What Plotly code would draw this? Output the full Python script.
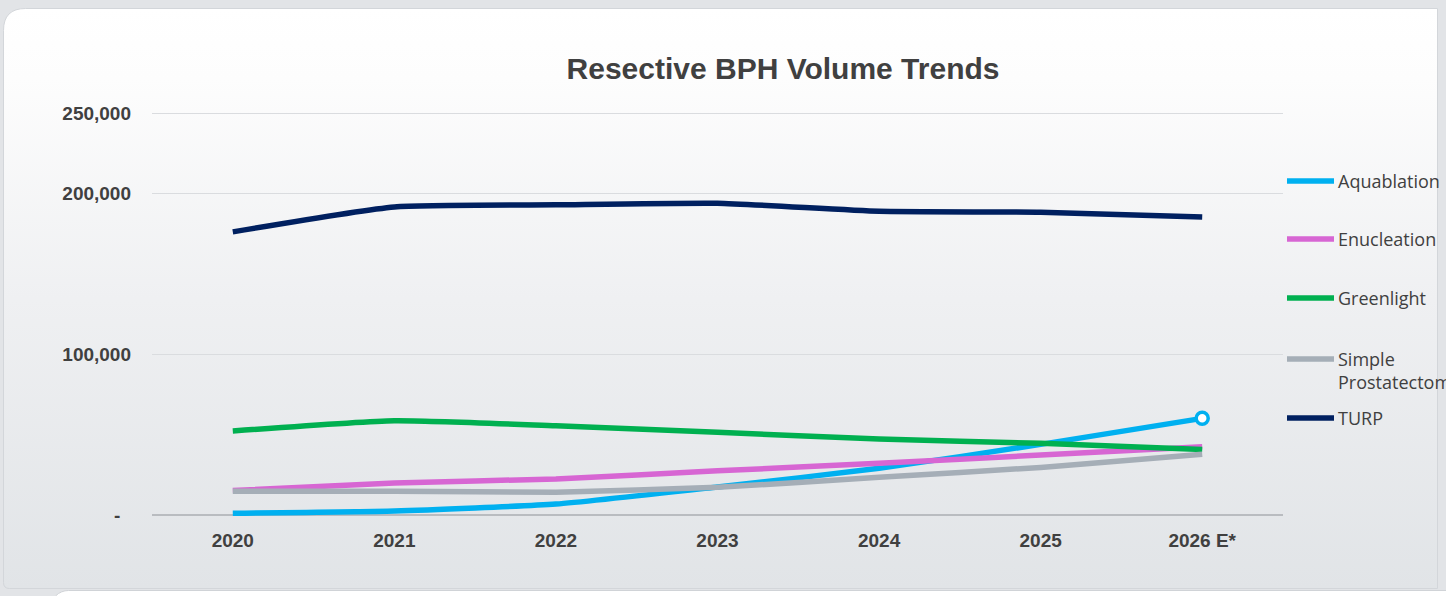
import base64
import plotly.graph_objects as go

# ---- data -------------------------------------------------------------
years = ["2020", "2021", "2022", "2023", "2024", "2025", "2026 E*"]
aquablation = [1100, 2500, 6800, 17400, 29000, 43900, 60100]
enucleation = [15200, 19900, 22400, 27500, 32100, 37300, 42400]
greenlight = [52200, 58600, 55500, 51400, 47200, 44600, 40800]
simple_prostatectomy = [14700, 14800, 14200, 17200, 23400, 29600, 37700]
turp = [176100, 191600, 192900, 193900, 188900, 188300, 185400]

series_names = ["Aquablation", "Enucleation", "Greenlight", "Simple Prostatectomy", "TURP"]
legend_labels = ["Aquablation", "Enucleation", "Greenlight", "Simple<br>Prostatectomy", "TURP"]
series_values = [aquablation, enucleation, greenlight, simple_prostatectomy, turp]
series_colors = ["#00b0f0", "#d766d3", "#00b050", "#a5aeb7", "#002060"]

y_tickvals = [0, 100000, 200000, 250000]
y_ticktext = ["-\u00a0\u00a0", "100,000", "200,000", "250,000"]

title_text = "Resective BPH Volume Trends"

# ---- geometry ---------------------------------------------------------
W, H = 1446, 596
ML, MR, MT, MB = 152, 163, 109, 77
PW, PH = W - ML - MR, H - MT - MB


def px_x(px):
    return (px - ML) / PW


def px_y(py):
    return 1 - (py - MT) / PH


TEXT = "#404040"
BOLD_FONT = "Liberation Sans, Arial, sans-serif"
LEG_FONT = "Open Sans, sans-serif"

fig = go.Figure()

for name, vals, col in zip(series_names, series_values, series_colors):
    fig.add_trace(go.Scatter(
        x=years, y=vals, name=name, mode="lines",
        line=dict(color=col, width=5.5, shape="spline", smoothing=0.5),
        showlegend=False,
    ))

# highlighted end point of the Aquablation series
fig.add_trace(go.Scatter(
    x=[years[-1]], y=[aquablation[-1]], mode="markers", showlegend=False,
    marker=dict(size=12, color="white", line=dict(color=series_colors[0], width=3.5)),
))

# ---- card background --------------------------------------------------
svg = f"""<svg xmlns='http://www.w3.org/2000/svg' width='{W}' height='{H}' viewBox='0 0 {W} {H}'>
<defs><linearGradient id='g' x1='0' y1='0' x2='0' y2='1'>
<stop offset='0' stop-color='#ffffff'/>
<stop offset='0.12' stop-color='#fdfdfd'/>
<stop offset='0.5' stop-color='#eff0f2'/>
<stop offset='1' stop-color='#e1e4e7'/>
</linearGradient></defs>
<rect x='0' y='0' width='{W}' height='{H}' fill='#e2e4e7'/>
<path d='M25.5 8.5 H1437.5 V588.5 H9.5 Q3.5 588.5 3.5 582.5 V30.5 Q3.5 8.5 25.5 8.5 Z'
 fill='url(#g)' stroke='#d3d6da' stroke-width='1'/>
<rect x='50.5' y='590.5' width='1420' height='60' rx='18' fill='#ffffff' stroke='#d0d3d7' stroke-width='1'/>
</svg>"""
src = "data:image/svg+xml;base64," + base64.b64encode(svg.encode()).decode()
fig.add_layout_image(dict(
    source=src, xref="paper", yref="paper",
    x=px_x(0), y=px_y(0), sizex=W / PW, sizey=H / PH,
    xanchor="left", yanchor="top", sizing="stretch", layer="below",
))

# ---- legend (line sample + label) ---------------------------------------
legend_rows = [181, 239, 298, 359, 418]
for label, col, row in zip(legend_labels, series_colors, legend_rows):
    fig.add_shape(type="line", xref="paper", yref="paper",
                  x0=px_x(1287), x1=px_x(1334), y0=px_y(row), y1=px_y(row),
                  line=dict(color=col, width=5.5))
    n_lines = label.count("<br>") + 1
    center = row + (n_lines - 1) * 23.4 / 2
    fig.add_annotation(xref="paper", yref="paper", x=px_x(1336), y=px_y(center),
                       text=label, showarrow=False, xanchor="left", yanchor="middle",
                       align="left", font=dict(family=LEG_FONT, size=18, color=TEXT))

fig.update_layout(
    width=W, height=H,
    margin=dict(l=ML, r=MR, t=MT, b=MB),
    paper_bgcolor="#e2e4e7", plot_bgcolor="rgba(0,0,0,0)",
    showlegend=False,
    title=dict(text=title_text, xref="container", yref="container",
               x=783 / W, y=1 - 68 / H, xanchor="center", yanchor="middle",
               font=dict(family=BOLD_FONT, size=30, color=TEXT, weight="bold")),
    xaxis=dict(type="category", range=[-0.5, 6.5], showgrid=False, zeroline=False,
               showline=False, ticks="", ticklabelstandoff=8,
               tickfont=dict(family=BOLD_FONT, size=19, color=TEXT, weight="bold")),
    yaxis=dict(range=[-2500, 252500], tickvals=y_tickvals, ticktext=y_ticktext,
               showgrid=True, gridcolor="#dadcdf", gridwidth=1,
               zeroline=True, zerolinecolor="#b9bcc0", zerolinewidth=1.5,
               showline=False, ticks="", ticklabelstandoff=20,
               tickfont=dict(family=BOLD_FONT, size=19, color=TEXT, weight="bold")),
)

fig.write_html("out.html")
